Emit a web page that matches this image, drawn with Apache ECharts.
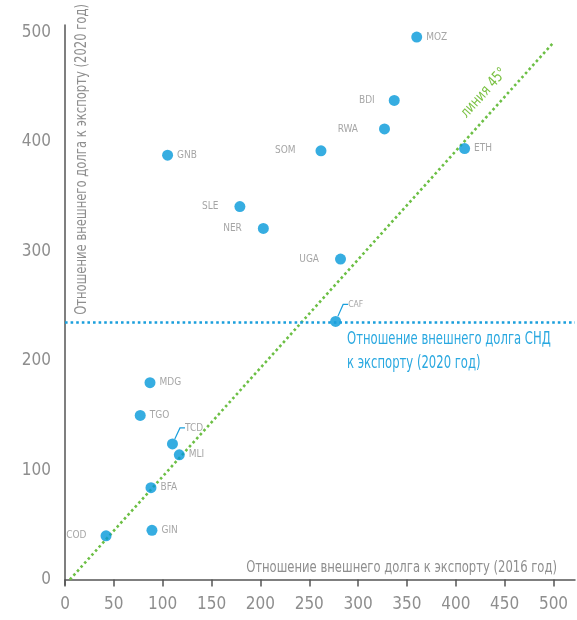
<!DOCTYPE html>
<html>
<head>
<meta charset="utf-8">
<script src="https://cdn.jsdelivr.net/npm/echarts@6/dist/echarts.min.js"></script>
<style>
html,body{margin:0;padding:0;background:#fff;}
#chart{width:577px;height:620px;}
</style>
</head>
<body>
<div id="chart"></div>
<script>
// ---- data ----
const countries = ['MOZ','BDI','RWA','ETH','SOM','GNB','SLE','NER','UGA','CAF','MDG','TGO','TCD','MLI','BFA','GIN','COD'];
const debt2016 = [360, 337, 327, 409, 262, 105, 179, 203, 282, 277, 87, 77, 110, 117, 88, 89, 42];
const debt2020 = [496, 438, 412, 394, 392, 388, 341, 321, 293, 236, 180, 150, 124, 114, 84, 45, 40];
const xTicks = [0, 50, 100, 150, 200, 250, 300, 350, 400, 450, 500];
const yTicks = [0, 100, 200, 300, 400, 500];
const line45X = [5, 500];
const line45Y = [0, 491];
const sndLevel = 235;
const xName = 'Отношение внешнего долга к экспорту (2016 год)';
const yName = 'Отношение внешнего долга к экспорту (2020 год)';
const sndText = 'Отношение внешнего долга СНД\nк экспорту (2020 год)';
const lineText = 'линия 45°';

// ---- styling ----
const F = "'Liberation Sans Narrow', 'DejaVu Sans Condensed', 'Roboto', sans-serif";
const grey = '#8e8e8e';
const leftLabels = {BDI: 14, RWA: 21, SOM: 20, SLE: 16, NER: 16, UGA: 16, COD: 14};
const leaderLabels = {TCD: {dx: 3, dy: -16}, CAF: {dx: 3, dy: -17}};
const squeeze = 0.86;

const scatterData = countries.map((c, i) => {
  const d = {name: c, value: [debt2016[i], debt2020[i]]};
  if (leftLabels[c] !== undefined) {
    d.label = {position: 'left', distance: leftLabels[c]};
  }
  if (leaderLabels[c]) {
    d.labelLine = {show: true};
    if (c === 'CAF') d.label = {fontSize: 8.5};
  }
  return d;
});

const chart = echarts.init(document.getElementById('chart'), null, {renderer: 'canvas'});
const option = {
  animation: false,
  grid: {left: 65, right: 2, top: 25, bottom: 35, containLabel: false},
  xAxis: {
    type: 'value', min: 0, max: 522,
    axisLine: {show: true, lineStyle: {color: '#555', width: 1.5}},
    axisTick: {show: true, customValues: xTicks, length: 7, lineStyle: {color: '#555', width: 1.5}},
    axisLabel: {customValues: xTicks, color: grey, fontSize: 17, fontFamily: F, margin: 11},
    splitLine: {show: false}
  },
  yAxis: {
    type: 'value', min: -5, max: 507,
    axisLine: {show: true, lineStyle: {color: '#555', width: 1.5}},
    axisTick: {show: false},
    axisLabel: {customValues: yTicks, color: grey, fontSize: 17, fontFamily: F, margin: 14},
    splitLine: {show: false}
  },
  series: [
    {
      type: 'line',
      data: line45X.map((x, i) => [x, line45Y[i]]),
      symbol: 'none',
      silent: true,
      z: 1,
      lineStyle: {color: '#6cbf45', width: 2.6, type: [2.6, 2.8]}
    },
    {
      type: 'scatter',
      symbolSize: 11,
      z: 3,
      itemStyle: {color: '#0499da'},
      data: scatterData,
      label: {
        show: true, position: 'right', distance: 4,
        formatter: '{b}', color: grey, fontSize: 10, fontFamily: F
      },
      labelLayout: function (params) {
        const name = countries[params.dataIndex];
        if (leaderLabels[name]) {
          return {dx: leaderLabels[name].dx, dy: leaderLabels[name].dy};
        }
        return {};
      },
      labelLine: {show: false, length2: 5, lineStyle: {color: '#1a9fdc', width: 1.2}},
      markLine: {
        symbol: 'none', silent: true,
        label: {show: false},
        lineStyle: {color: '#1a9fdc', width: 2.6, type: [2.6, 3]},
        data: [{yAxis: sndLevel}]
      }
    }
  ],
  graphic: [
    {
      type: 'text', x: 82, y: 4, rotation: Math.PI / 2, scaleX: squeeze,
      style: {text: yName, fill: grey, font: '15px ' + F, align: 'right', verticalAlign: 'middle'}
    },
    {
      type: 'text', x: 557, y: 568, scaleX: squeeze,
      style: {text: xName, fill: grey, font: '15px ' + F, align: 'right', verticalAlign: 'middle'}
    },
    {
      type: 'text', x: 347, y: 328, scaleX: 0.76,
      style: {text: sndText, fill: '#29a8e0', font: '17px ' + F, align: 'left', verticalAlign: 'top', lineHeight: 24}
    },
    {
      type: 'text', x: 484, y: 93, rotation: 48 * Math.PI / 180, scaleX: squeeze,
      style: {text: lineText, fill: '#7ac143', font: '15px ' + F, align: 'center', verticalAlign: 'middle'}
    }
  ]
};
chart.setOption(option);
</script>
</body>
</html>
